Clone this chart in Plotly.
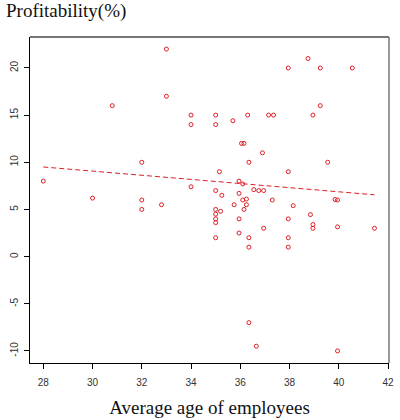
import plotly.graph_objects as go

# Data
age = [28, 30, 30.8, 32, 32, 32, 32.8, 33, 33, 34, 34, 34,
       35, 35, 35, 35, 35, 35, 35, 35, 35.2, 35.15, 35.25, 35.7, 35.75,
       35.95, 35.95, 35.95, 35.95, 36.05, 36.15, 36.1, 36.1, 36.25, 36.25, 36.15,
       36.3, 36.35, 36.35, 36.35, 36.35, 36.55, 36.65, 36.75, 36.9, 36.95, 36.95,
       37.15, 37.35, 37.3, 37.95, 37.95, 37.95, 37.95, 37.95, 38.15, 38.75, 38.85,
       38.95, 38.95, 38.95, 39.25, 39.25, 39.55, 39.85, 39.95, 39.95, 39.95, 40.55, 41.45]
profit = [8, 6.2, 16, 10, 6, 5, 5.5, 22, 17, 15, 14, 7.4,
          15, 14, 7, 5, 4.5, 4, 3.6, 2, 4.8, 9, 6.5, 14.4, 5.5,
          8, 6.7, 4, 2.5, 12, 12, 7.7, 6, 6.1, 5.5, 5,
          15, 10, 2, 1, -7, 7.1, -9.5, 7, 11, 7, 3,
          15, 15, 6, 20, 9, 4, 2, 1, 5.4, 21, 4.45,
          15, 3.4, 3, 20, 16, 10, 6.05, 6, 3.15, -10, 20, 3]

# Fitted trend line end points
fit_x = [28, 41.45]
fit_y = [9.5, 6.55]

x_ticks = [28, 30, 32, 34, 36, 38, 40, 42]
y_ticks = [-10, -5, 0, 5, 10, 15, 20]

RED = "rgb(222,30,38)"

fig = go.Figure()
fig.add_trace(go.Scatter(x=fit_x, y=fit_y, mode="lines",
                         line=dict(color=RED, width=1, dash="5px,3px"),
                         hoverinfo="skip", showlegend=False))
fig.add_trace(go.Scatter(x=age, y=profit, mode="markers",
                         marker=dict(symbol="circle-open", size=4, color=RED,
                                     line=dict(width=1, color=RED)),
                         showlegend=False))

fig.update_layout(
    width=400, height=420,
    margin=dict(l=30, r=6, t=37, b=57),
    plot_bgcolor="white", paper_bgcolor="white",
    annotations=[dict(text="Profitability(%)", xref="paper", yref="paper",
                      x=(4 - 30) / 364, y=1 + (37 - 11) / 326, xanchor="left", yanchor="middle",
                      showarrow=False,
                      font=dict(family="Liberation Serif", size=19, color="#111"))],
    xaxis=dict(range=[27.46, 42.04], tickvals=x_ticks, ticktext=[str(v) for v in x_ticks],
               showgrid=False, zeroline=False, showline=True, linecolor="black", linewidth=1,
               ticks="outside", ticklen=5, tickwidth=1, tickcolor="black",
               ticklabelstandoff=5,
               tickfont=dict(family="Liberation Sans", size=10, color="#333"),
               title=dict(text="Average age of employees", standoff=13,
                          font=dict(family="Liberation Serif", size=19, color="#111"))),
    yaxis=dict(range=[-11.28, 23.28], tickvals=y_ticks, ticktext=[str(v) for v in y_ticks],
               showgrid=False, zeroline=False, showline=True, linecolor="black", linewidth=1,
               ticks="outside", ticklen=5, tickwidth=1, tickcolor="black", tickangle=-90,
               ticklabelstandoff=2,
               tickfont=dict(family="Liberation Sans", size=10, color="#333")),
    shapes=[
        dict(type="line", xref="paper", yref="paper", x0=0, x1=1, y0=1, y1=1,
             line=dict(color="#777", width=2)),
        dict(type="line", xref="paper", yref="paper", x0=1, x1=1, y0=0, y1=1,
             line=dict(color="#777", width=1.5)),
    ],
)

fig.write_html("out.html")
